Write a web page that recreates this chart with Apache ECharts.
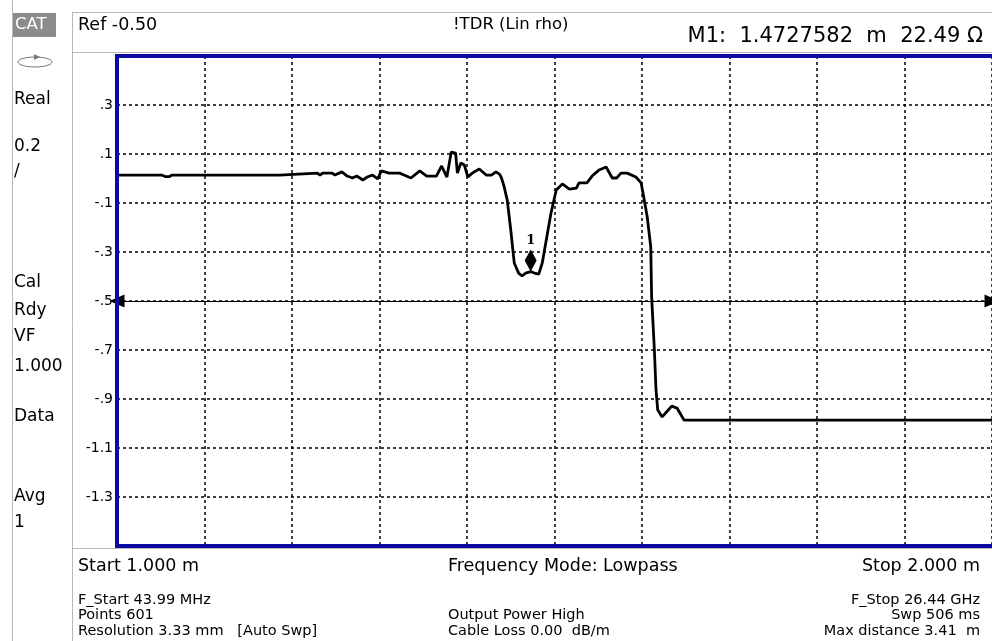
<!DOCTYPE html>
<html>
<head>
<meta charset="utf-8">
<script src="https://cdn.jsdelivr.net/npm/echarts@6/dist/echarts.min.js"></script>
<style>
  html, body { margin: 0; padding: 0; background: #fff; }
  #main { width: 992px; height: 641px; }
</style>
</head>
<body>
<div id="main"></div>
<script>
// distance (m) and reflection coefficient (lin rho)
var distance = [1.000, 1.051, 1.055, 1.060, 1.063, 1.186, 1.188, 1.229, 1.232, 1.235, 1.246, 1.249,
  1.257, 1.263, 1.269, 1.274, 1.281, 1.286, 1.292, 1.298, 1.302, 1.311, 1.323, 1.328, 1.336,
  1.346, 1.354, 1.365, 1.371, 1.377, 1.382, 1.387, 1.389, 1.393, 1.397, 1.401, 1.406, 1.414,
  1.422, 1.428, 1.433, 1.437, 1.439, 1.442, 1.446, 1.450, 1.454, 1.459, 1.463, 1.467, 1.4728,
  1.477, 1.482, 1.486, 1.490, 1.496, 1.502, 1.509, 1.517, 1.525, 1.528, 1.537, 1.543, 1.551,
  1.559, 1.566, 1.571, 1.576, 1.583, 1.593, 1.599, 1.602, 1.606, 1.610, 1.611, 1.614, 1.616,
  1.618, 1.623, 1.628, 1.634, 1.640, 1.648, 2.000];
var rho = [0.014, 0.014, 0.008, 0.008, 0.014, 0.014, 0.022, 0.022, 0.014, 0.022, 0.022, 0.014,
  0.027, 0.010, 0.002, 0.010, -0.006, 0.006, 0.014, -0.002, 0.031, 0.022, 0.022, 0.014, 0.002,
  0.031, 0.010, 0.010, 0.051, 0.006, 0.108, 0.104, 0.022, 0.063, 0.055, 0.006, 0.022, 0.039,
  0.014, 0.014, 0.027, 0.018, 0.006, -0.027, -0.088, -0.210, -0.345, -0.386, -0.398, -0.386, -0.380,
  -0.386, -0.390, -0.345, -0.263, -0.141, -0.047, -0.022, -0.043, -0.039, -0.018, -0.018, 0.010, 0.035,
  0.047, 0.002, 0.002, 0.022, 0.022, 0.006, -0.018, -0.076, -0.157, -0.280, -0.484, -0.688, -0.863,
  -0.945, -0.973, -0.953, -0.929, -0.937, -0.986, -0.986];

var refLevel = -0.5;
var markerDist = 1.4727582;
var markerRho = -0.38;

var yMin = -1.5, yMax = 0.5, yStep = 0.2;
var xMin = 1.0, xMax = 2.0, xStep = 0.1;

var sideLabels = [
  ['Real', 100], ['0.2', 147], ['/', 172], ['Cal', 283], ['Rdy', 311], ['VF', 337],
  ['1.000', 367], ['Data', 417], ['Avg', 497], ['1', 523]
];

var trace = distance.map(function (d, i) { return [d, rho[i]]; });

var chart = echarts.init(document.getElementById('main'), null, { renderer: 'canvas' });

var FONT = '"DejaVu Sans", Verdana, sans-serif';
var gray = '#b8b8b8';
var blue = '#0a0aa0';

function txt(s, x, y, size, align, color) {
  return {
    type: 'text', x: x, y: y, silent: true,
    style: { text: s, font: size + 'px ' + FONT, fill: color || '#000',
      textAlign: align || 'left', textVerticalAlign: 'middle' }
  };
}
function ln(x1, y1, x2, y2, c, w) {
  return { type: 'line', silent: true, z: 10, shape: { x1: x1, y1: y1, x2: x2, y2: y2 },
    style: { stroke: c || gray, lineWidth: w || 1 } };
}

var graphics = [
  ln(12.5, 0, 12.5, 641),
  ln(72.5, 12, 72.5, 641),
  ln(72.5, 12.5, 992, 12.5),
  ln(72.5, 52.5, 992, 52.5),
  ln(72.5, 548.5, 992, 548.5),
  // plot frame
  ln(117, 54, 117, 548, blue, 4),
  ln(115, 56, 992, 56, blue, 4),
  ln(115, 546, 992, 546, blue, 4),
  { type: 'rect', silent: true, shape: { x: 13, y: 13, width: 43, height: 24 }, style: { fill: '#8c8c8c' } },
  txt('CAT', 15, 25, 16.5, 'left', '#fff'),
  { type: 'ellipse', silent: true, shape: { cx: 35, cy: 62, rx: 17, ry: 5 },
    style: { fill: 'none', stroke: '#777', lineWidth: 1 } },
  { type: 'polygon', silent: true, shape: { points: [[34, 54], [40, 57], [34, 60]] },
    style: { fill: '#777' } },
  txt('Ref -0.50', 78, 25, 17.5),
  txt('!TDR (Lin rho)', 453, 25, 16.5),
  txt('M1:  1.4727582  m  22.49 \u03a9', 983, 37, 21, 'right'),
  txt('Start 1.000 m', 78, 566, 17.5),
  txt('Frequency Mode: Lowpass', 448, 566, 17.5),
  txt('Stop 2.000 m', 980, 566, 17.5, 'right'),
  txt('F_Start 43.99 MHz', 78, 600, 14.5),
  txt('Points 601', 78, 615, 14.5),
  txt('Resolution 3.33 mm   [Auto Swp]', 78, 631, 14.5),
  txt('Output Power High', 448, 615, 14.5),
  txt('Cable Loss 0.00  dB/m', 448, 631, 14.5),
  txt('F_Stop 26.44 GHz', 980, 600, 14.5, 'right'),
  txt('Swp 506 ms', 980, 615, 14.5, 'right'),
  txt('Max distance 3.41  m', 980, 631, 14.5, 'right')
];
sideLabels.forEach(function (s) { graphics.push(txt(s[0], 14, s[1], 17)); });

var option = {
  backgroundColor: '#fff',
  animation: false,
  grid: { left: 117, top: 56, width: 877, height: 490 },
  xAxis: {
    type: 'value', min: xMin, max: xMax, interval: xStep,
    axisLine: { show: false }, axisTick: { show: false }, axisLabel: { show: false },
    splitLine: { show: true, lineStyle: { color: '#000', width: 1.5, type: [3, 3] } }
  },
  yAxis: {
    type: 'value', min: yMin, max: yMax, interval: yStep,
    axisLine: { show: false }, axisTick: { show: false },
    axisLabel: {
      margin: 4, color: '#000', fontSize: 14, fontFamily: FONT,
      formatter: function (v) {
        if (Math.abs(v - yMax) < 1e-6 || Math.abs(v - yMin) < 1e-6) return '';
        return v.toFixed(1).replace('0.', '.');
      }
    },
    splitLine: { show: true, lineStyle: { color: '#000', width: 1.5, type: [3, 3] } }
  },
  series: [
    {
      type: 'line', data: trace, showSymbol: false, symbol: 'none',
      lineStyle: { color: '#000', width: 2.8 },
      markLine: {
        silent: true, animation: false,
        symbol: ['triangle', 'triangle'], symbolSize: [13, 15],
        lineStyle: { color: '#000', width: 1, type: 'solid' },
        label: { show: false },
        data: [{ yAxis: refLevel }]
      },
      z: 3
    },
    {
      type: 'scatter', data: [[markerDist, markerRho]],
      symbol: 'diamond', symbolSize: [12, 22], symbolOffset: [0, -11],
      itemStyle: { color: '#000', opacity: 1 },
      label: { show: true, position: 'top', distance: 2, formatter: '1',
        color: '#000', fontFamily: 'DejaVu Serif, serif', fontWeight: 'bold', fontSize: 13 },
      z: 4
    }
  ],
  graphic: graphics
};

chart.setOption(option);
</script>
</body>
</html>
